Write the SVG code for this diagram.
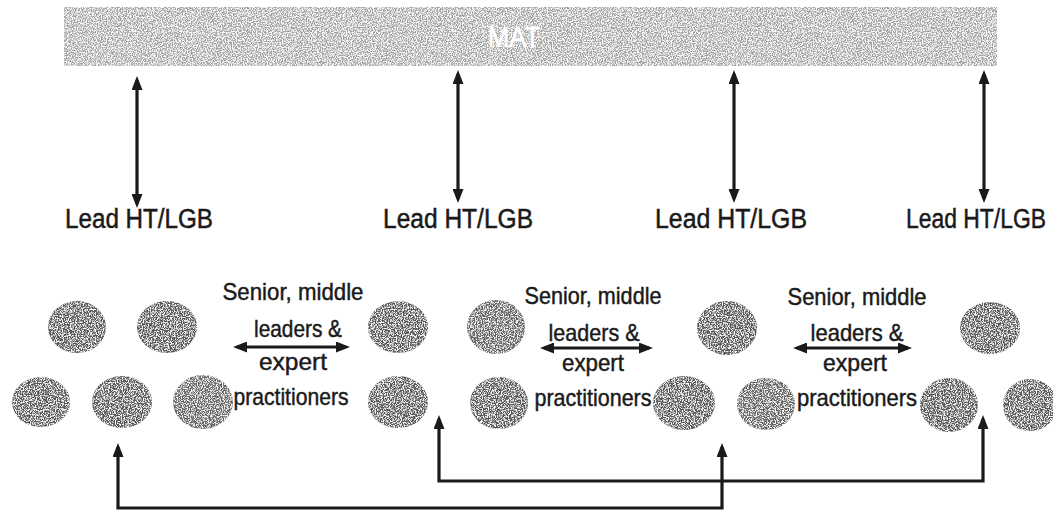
<svg xmlns="http://www.w3.org/2000/svg" width="1053" height="510" viewBox="0 0 1053 510">
<defs>
<style>
.lbl{font-family:"Liberation Sans",Arial,sans-serif;font-size:27px;fill:#1a1a1a;stroke:#1a1a1a;stroke-width:0.5;}
.grp{font-family:"Liberation Sans",Arial,sans-serif;font-size:24px;fill:#1a1a1a;stroke:#1a1a1a;stroke-width:0.45;text-anchor:middle;}
.mat{font-family:"Liberation Sans",Arial,sans-serif;font-size:30px;fill:#ffffff;stroke:#ffffff;stroke-width:0.6;text-anchor:middle;}
.blob{fill:#595959;filter:url(#grain);}
.bar{fill:#a2a2a2;filter:url(#grainLight);}
.con{fill:none;stroke:#1a1a1a;stroke-width:3.2;marker-start:url(#ah);marker-end:url(#ah);}
</style>
<filter id="grain" x="-5%" y="-5%" width="110%" height="110%">
<feTurbulence type="fractalNoise" baseFrequency="0.85" numOctaves="2" seed="4" result="n"/>
<feColorMatrix in="n" type="matrix" values="0 0 0 0 1  0 0 0 0 1  0 0 0 0 1  4.5 0 0 0 -2.0" result="spots"/>
<feComposite in="spots" in2="SourceGraphic" operator="in" result="s2"/>
<feMerge><feMergeNode in="SourceGraphic"/><feMergeNode in="s2"/></feMerge>
</filter>
<filter id="grainLight" x="0" y="0" width="100%" height="100%">
<feTurbulence type="fractalNoise" baseFrequency="0.8" numOctaves="2" seed="9" result="n"/>
<feColorMatrix in="n" type="matrix" values="0 0 0 0 1  0 0 0 0 1  0 0 0 0 1  4 0 0 0 -1.6" result="spots"/>
<feComposite in="spots" in2="SourceGraphic" operator="in" result="s2"/>
<feMerge><feMergeNode in="SourceGraphic"/><feMergeNode in="s2"/></feMerge>
</filter>
<marker id="ah" viewBox="0 0 14 11" refX="10" refY="5.5" markerWidth="14" markerHeight="11" markerUnits="userSpaceOnUse" orient="auto-start-reverse">
<path d="M0,0 L14,5.5 L0,11 z" fill="#1a1a1a"/>
</marker>
</defs>
<rect width="1053" height="510" fill="#ffffff"/>

<g id="mat">
<rect class="bar" x="64" y="7" width="933" height="59"/>
<text class="mat" x="514" y="47" textLength="52" lengthAdjust="spacingAndGlyphs">MAT</text>
</g>

<g id="connectors">
<line class="con" x1="137" y1="80" x2="137" y2="204"/>
<line class="con" x1="458" y1="74" x2="458" y2="199"/>
<line class="con" x1="734" y1="74" x2="734" y2="199"/>
<line class="con" x1="984" y1="74" x2="984" y2="199"/>
<line class="con" x1="237" y1="347" x2="346" y2="347"/>
<line class="con" x1="544" y1="348" x2="649" y2="348"/>
<line class="con" x1="797" y1="348" x2="908" y2="348"/>
<path class="con" d="M118,447 V508 H722 V447"/>
<path class="con" d="M439,419 V481 H983 V419"/>
</g>

<g id="lead1"><text class="lbl" x="65" y="228" textLength="148" lengthAdjust="spacingAndGlyphs">Lead HT/LGB</text></g>
<g id="lead2"><text class="lbl" x="383" y="228" textLength="150" lengthAdjust="spacingAndGlyphs">Lead HT/LGB</text></g>
<g id="lead3"><text class="lbl" x="655" y="228" textLength="152" lengthAdjust="spacingAndGlyphs">Lead HT/LGB</text></g>
<g id="lead4"><text class="lbl" x="906" y="228" textLength="140" lengthAdjust="spacingAndGlyphs">Lead HT/LGB</text></g>

<g id="label1">
<text class="grp" x="293" y="300" textLength="141" lengthAdjust="spacingAndGlyphs">Senior, middle</text>
<text class="grp" x="298" y="337" textLength="88" lengthAdjust="spacingAndGlyphs">leaders &amp;</text>
<text class="grp" x="293" y="370" textLength="68" lengthAdjust="spacingAndGlyphs">expert</text>
<text class="grp" x="291" y="405" textLength="115" lengthAdjust="spacingAndGlyphs">practitioners</text>
</g>
<g id="label2">
<text class="grp" x="593" y="304" textLength="137" lengthAdjust="spacingAndGlyphs">Senior, middle</text>
<text class="grp" x="594" y="341" textLength="91" lengthAdjust="spacingAndGlyphs">leaders &amp;</text>
<text class="grp" x="593" y="371" textLength="62" lengthAdjust="spacingAndGlyphs">expert</text>
<text class="grp" x="593" y="406" textLength="117" lengthAdjust="spacingAndGlyphs">practitioners</text>
</g>
<g id="label3">
<text class="grp" x="857" y="305" textLength="139" lengthAdjust="spacingAndGlyphs">Senior, middle</text>
<text class="grp" x="857" y="341" textLength="93" lengthAdjust="spacingAndGlyphs">leaders &amp;</text>
<text class="grp" x="855" y="371" textLength="64" lengthAdjust="spacingAndGlyphs">expert</text>
<text class="grp" x="857" y="406" textLength="120" lengthAdjust="spacingAndGlyphs">practitioners</text>
</g>

<g id="school1">
<g id="s1a"><ellipse class="blob" cx="77" cy="327" rx="29" ry="26"/></g>
<g id="s1b"><ellipse class="blob" cx="167" cy="327" rx="30" ry="26"/></g>
<g id="s1c"><ellipse class="blob" cx="41" cy="402" rx="29" ry="25"/></g>
<g id="s1d"><ellipse class="blob" cx="122" cy="402" rx="30" ry="26"/></g>
<g id="s1e"><ellipse class="blob" cx="203" cy="402" rx="30" ry="27" style="fill:#666666"/></g>
</g>
<g id="school2">
<g id="s2a"><ellipse class="blob" cx="398" cy="327" rx="30" ry="26"/></g>
<g id="s2b"><ellipse class="blob" cx="398" cy="402" rx="30" ry="26"/></g>
<g id="s2c"><ellipse class="blob" cx="496" cy="327" rx="29" ry="27" style="fill:#646464"/></g>
<g id="s2d"><ellipse class="blob" cx="499" cy="403" rx="29" ry="26"/></g>
</g>
<g id="school3">
<g id="s3a"><ellipse class="blob" cx="727" cy="328" rx="30" ry="27"/></g>
<g id="s3b"><ellipse class="blob" cx="684" cy="403" rx="31" ry="27"/></g>
<g id="s3c"><ellipse class="blob" cx="766" cy="404" rx="29" ry="26" style="fill:#646464"/></g>
</g>
<g id="school4">
<g id="s4a"><ellipse class="blob" cx="990" cy="328" rx="30" ry="26"/></g>
<g id="s4b"><ellipse class="blob" cx="949" cy="405" rx="29" ry="27"/></g>
<g id="s4c"><ellipse class="blob" cx="1030" cy="405" rx="27" ry="26"/></g>
</g>
</svg>
